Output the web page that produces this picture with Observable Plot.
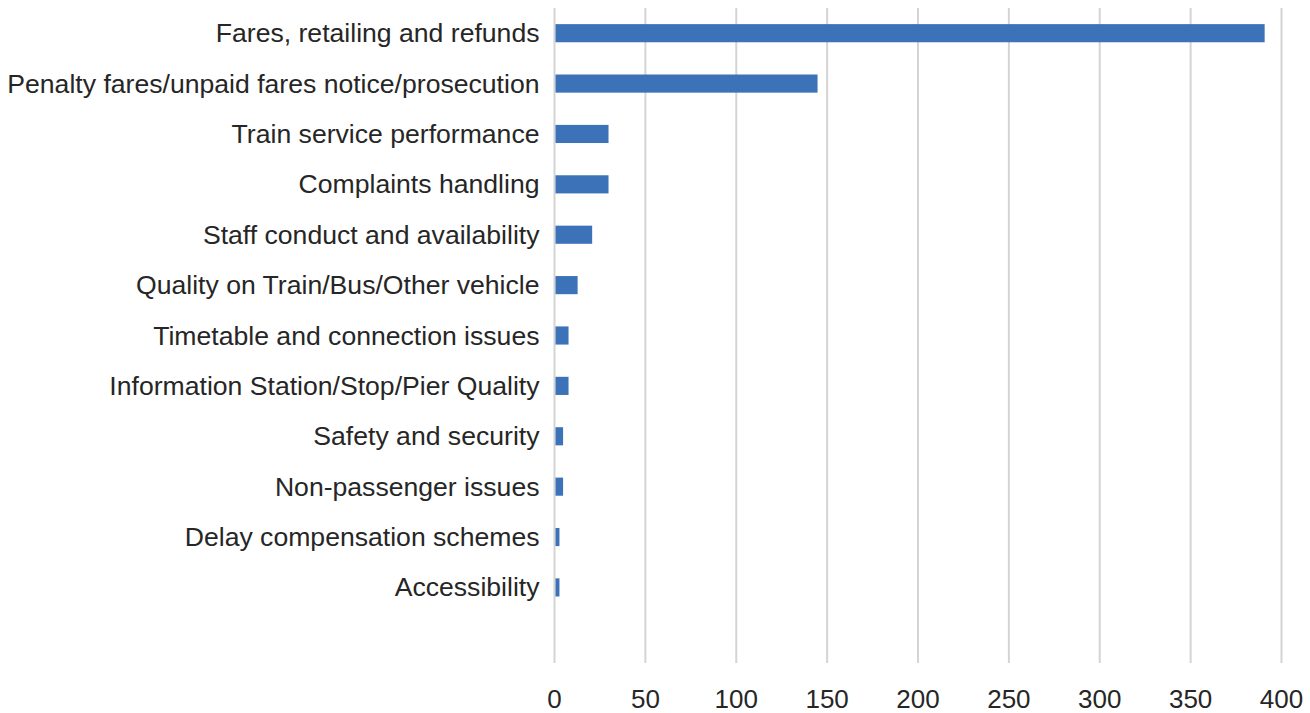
<!DOCTYPE html>
<html>
<head>
<meta charset="utf-8">
<script src="https://cdn.jsdelivr.net/npm/d3@7"></script>
<script src="https://cdn.jsdelivr.net/npm/@observablehq/plot@0.6"></script>
<style>
  html, body { margin: 0; padding: 0; background: #fff; }
  #chart { width: 1310px; height: 713px; }
</style>
</head>
<body>
<div id="chart"></div>
<script>
const categories = [
  "Fares, retailing and refunds",
  "Penalty fares/unpaid fares notice/prosecution",
  "Train service performance",
  "Complaints handling",
  "Staff conduct and availability",
  "Quality on Train/Bus/Other vehicle",
  "Timetable and connection issues",
  "Information Station/Stop/Pier Quality",
  "Safety and security",
  "Non-passenger issues",
  "Delay compensation schemes",
  "Accessibility"
];
const values = [391, 145, 30, 30, 21, 13, 8, 8, 5, 5, 3, 3];
const xTicks = [0, 50, 100, 150, 200, 250, 300, 350, 400];

const data = categories.map((c, i) => ({category: c, value: values[i]}));
const yDomain = [...categories, ""];

const chart = Plot.plot({
  width: 1310,
  height: 713,
  marginLeft: 554,
  marginRight: 29,
  marginTop: 8,
  marginBottom: 50,
  style: {fontFamily: "'Liberation Sans', Arial, sans-serif", fontSize: "26px", color: "#262626", background: "#fff"},
  x: {domain: [0, 400], ticks: xTicks},
  y: {domain: yDomain, paddingInner: 0.64, paddingOuter: 0.32, align: 0.5, round: false},
  marks: [
    Plot.ruleX(xTicks, {stroke: "#d4d4d4", strokeWidth: 2, strokeOpacity: 1}),
    Plot.barX(data, {x: "value", y: "category", fill: "#3c72b8", insetLeft: 1.5}),
    Plot.axisX({ticks: xTicks, tickSize: 0, tickPadding: 26, label: null, fontSize: 26, fill: "#262626"}),
    Plot.axisY({tickSize: 0, tickPadding: 15, label: null, fontSize: 26.6, fill: "#262626"})
  ]
});
document.getElementById("chart").appendChild(chart);
</script>
</body>
</html>
